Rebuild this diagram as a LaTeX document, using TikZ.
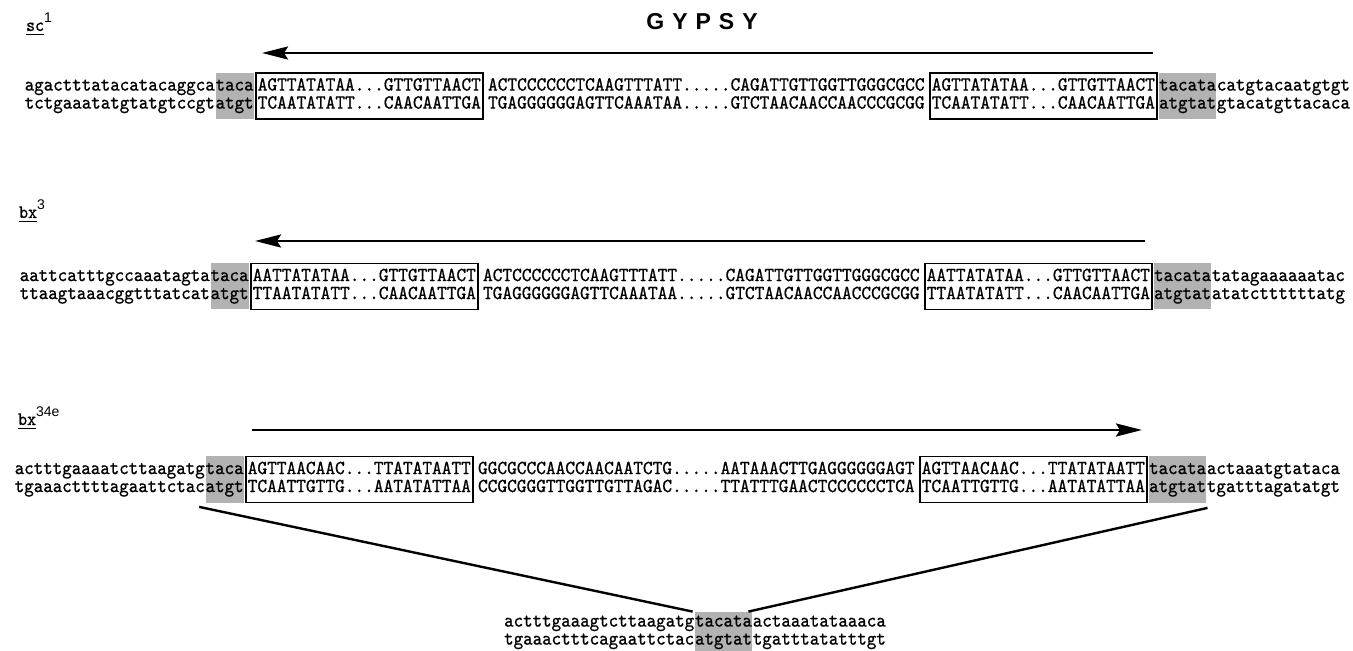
\documentclass[tikz,border=0pt]{standalone}
\usepackage{fontspec}
\usetikzlibrary{positioning,arrows.meta,calc}
\newfontfamily\lcseq{lmmono10-regular.otf}[FakeStretch=0.905,FakeBold=0.8]
\newfontfamily\ucseq{lmmono10-regular.otf}[FakeStretch=0.924,FakeBold=0.8]
\newfontfamily\labsf{Liberation Sans}

\begin{document}
\begin{tikzpicture}[
    x=0.5pt, y=-0.5pt,
    >={Stealth[length=13pt,width=6.5pt,inset=2pt]},
    seq/.style={inner xsep=0pt, inner ysep=0pt, minimum height=23pt, align=left},
    lc/.style={seq, font=\lcseq\fontsize{10}{9}\selectfont},
    uc/.style={seq, font=\ucseq\fontsize{10}{9}\selectfont},
    site/.style={lc, fill=black!30},
    ltr/.style={uc, draw, line width=0.75pt, inner xsep=1pt},
    dir/.style={->, line width=1.4pt},
    cut/.style={line width=1.2pt},
    lbl/.style={anchor=base west, font=\lcseq\fontsize{9.5}{10}\selectfont},
    sup/.style={font=\labsf\fontsize{7}{8}\selectfont},
]
\useasboundingbox (0,0) rectangle (1353,651);

% ---- Title and labels ---------------------------------------------
\node[font=\labsf\bfseries\fontsize{11.5}{13}\selectfont] (title) at (702,22) {G\kern4pt Y\kern4pt P\kern4pt S\kern4pt Y};
\node[lbl] (sc) at (19,31) {\underline{sc}\raisebox{4pt}{\labsf\fontsize{7}{8}\selectfont 1}};
\node[lbl] (bx) at (12,218) {\underline{bx}\raisebox{4pt}{\labsf\fontsize{7}{8}\selectfont 3}};
\node[lbl] (bxe) at (11,425) {\underline{bx}\raisebox{4pt}{\labsf\fontsize{7}{8}\selectfont 34e}};

% ---- Row 1: sc1 ---------------------------------------------------
\node[site, anchor=east] (ts1a) at (254,96) {\strut taca\\\strut atgt};
\node[lc, left=0pt of ts1a] (lf1) {\strut agactttatacatacaggca\\\strut tctgaaatatgtatgtccgt};
\node[ltr, right=0.5pt of ts1a] (ltr1a) {\strut AGTTATATAA...GTTGTTAACT\\\strut TCAATATATT...CAACAATTGA};
\node[uc, right=2pt of ltr1a] (mid1) {\strut ACTCCCCCCTCAAGTTTATT.....CAGATTGTTGGTTGGGCGCC\\\strut TGAGGGGGGAGTTCAAATAA.....GTCTAACAACCAACCCGCGG};
\node[ltr, right=2pt of mid1] (ltr1b) {\strut AGTTATATAA...GTTGTTAACT\\\strut TCAATATATT...CAACAATTGA};
\node[site, right=0.5pt of ltr1b] (ts1b) {\strut tacata\\\strut atgtat};
\node[lc, right=0pt of ts1b] (rf1) {\strut catgtacaatgtgt\\\strut gtacatgttacaca};

% ---- Row 2: bx3 ---------------------------------------------------
\node[site, anchor=east] (ts2a) at (249,286.5) {\strut taca\\\strut atgt};
\node[lc, left=0pt of ts2a] (lf2) {\strut aattcatttgccaaatagta\\\strut ttaagtaaacggtttatcat};
\node[ltr, right=0.5pt of ts2a] (ltr2a) {\strut AATTATATAA...GTTGTTAACT\\\strut TTAATATATT...CAACAATTGA};
\node[uc, right=2pt of ltr2a] (mid2) {\strut ACTCCCCCCTCAAGTTTATT.....CAGATTGTTGGTTGGGCGCC\\\strut TGAGGGGGGAGTTCAAATAA.....GTCTAACAACCAACCCGCGG};
\node[ltr, right=2pt of mid2] (ltr2b) {\strut AATTATATAA...GTTGTTAACT\\\strut TTAATATATT...CAACAATTGA};
\node[site, right=0.5pt of ltr2b] (ts2b) {\strut tacata\\\strut atgtat};
\node[lc, right=0pt of ts2b] (rf2) {\strut tatagaaaaaatac\\\strut atatcttttttatg};

% ---- Row 3: bx34e -------------------------------------------------
\node[site, anchor=east] (ts3a) at (244,479.5) {\strut taca\\\strut atgt};
\node[lc, left=0pt of ts3a] (lf3) {\strut actttgaaaatcttaagatg\\\strut tgaaacttttagaattctac};
\node[ltr, right=0.5pt of ts3a] (ltr3a) {\strut AGTTAACAAC...TTATATAATT\\\strut TCAATTGTTG...AATATATTAA};
\node[uc, right=2pt of ltr3a] (mid3) {\strut GGCGCCCAACCAACAATCTG.....AATAAACTTGAGGGGGGAGT\\\strut CCGCGGGTTGGTTGTTAGAC.....TTATTTGAACTCCCCCCTCA};
\node[ltr, right=2pt of mid3] (ltr3b) {\strut AGTTAACAAC...TTATATAATT\\\strut TCAATTGTTG...AATATATTAA};
\node[site, right=0.5pt of ltr3b] (ts3b) {\strut tacata\\\strut atgtat};
\node[lc, right=0pt of ts3b] (rf3) {\strut actaaatgtataca\\\strut tgatttagatatgt};

% ---- Excised site -------------------------------------------------
\node[site, minimum height=20pt] (tsb) at (723.5,632) {\strut tacata\\\strut atgtat};
\node[lc, minimum height=20pt, left=0pt of tsb] (lfb) {\strut actttgaaagtcttaagatg\\\strut tgaaactttcagaattctac};
\node[lc, minimum height=20pt, right=0pt of tsb] (rfb) {\strut actaaatataaaca\\\strut tgatttatatttgt};

% ---- Orientation arrows -------------------------------------------
\coordinate (r1a) at (1153,53);
\coordinate (r1b) at (262,53);
\coordinate (r2a) at (1145,241);
\coordinate (r2b) at (255,241);
\coordinate (r3a) at (252,430);
\coordinate (r3b) at (1142,430);
\draw[dir] (r1a) -- (r1b);
\draw[dir] (r2a) -- (r2b);
\draw[dir] (r3a) -- (r3b);

% ---- Excision lines -----------------------------------------------
\draw[cut] ($(ts3a.south west)+(-6,4)$) -- ($(tsb.north west)+(-2,0)$);
\draw[cut] ($(ts3b.south east)+(1,5)$) -- ($(tsb.north east)+(-4,0)$);

\end{tikzpicture}
\end{document}
